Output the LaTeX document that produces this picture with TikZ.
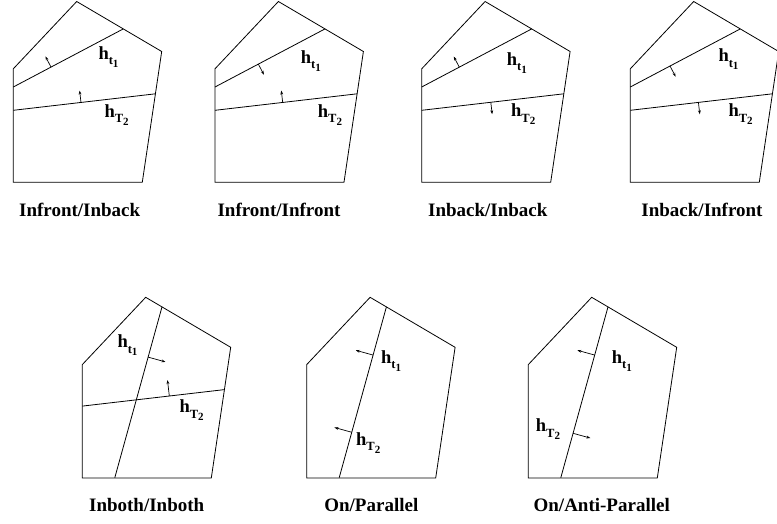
\documentclass[tikz,border=0pt]{standalone}
\usepackage{fontspec}
\setmainfont{Liberation Serif}
\usetikzlibrary{arrows.meta,calc}

% h with a two-level subscript, e.g. \hsub{t}{1}
\newcommand{\hsub}[2]{h\raisebox{-5.5pt}{\fontsize{12.5}{12.5}\selectfont #1\raisebox{-2.5pt}{\fontsize{11}{11}\selectfont #2}}}

\begin{document}
\begin{tikzpicture}[
    x=1pt, y=-1pt,
    line cap=butt, line join=miter,
    edge/.style={black, line width=0.8pt},
    normal/.style={black, line width=0.7pt, -{Stealth[length=4pt,width=2.8pt]}},
    hlabel/.style={anchor=base west, inner sep=0pt, font=\fontsize{18.5}{21}\selectfont\bfseries},
    caption/.style={anchor=base, inner sep=0pt, font=\fontsize{19}{22}\selectfont\bfseries},
    cell/.pic={\draw[edge] (63.4,0) -- (148.4,50) -- (129,180.7) -- (0,180.7) -- (0,67.3) -- cycle;},
]
\useasboundingbox (0,0) rectangle (777,523);

% Top row: both planes cross the cell side by side
\foreach \ox/\sa/\fa/\sb/\fb in {13.3/90/0.343/90/0.476, 215/-90/0.394/90/0.476,
                                 421.7/90/0.342/-90/0.486, 630.3/-90/0.361/-90/0.479}{
  \begin{scope}[shift={(\ox,1.5)}]
    \pic {cell};
    \coordinate (ta) at (0,85.5);   \coordinate (tb) at (110,27.4);
    \coordinate (Ta) at (0,108.8);  \coordinate (Tb) at (142.2,92.3);
    \draw[edge] (ta) -- (tb);
    \draw[edge] (Ta) -- (Tb);
    \draw[normal] ($(ta)!\fa!(tb)$) -- ($(ta)!\fa!(tb)!12pt!\sa:(tb)$);
    \draw[normal] ($(Ta)!\fb!(Tb)$) -- ($(Ta)!\fb!(Tb)!12pt!\sb:(Tb)$);
  \end{scope}
}

% Top row labels
\node[hlabel] (t1) at (98.3,59.3)  {\hsub{t}{1}};
\node[hlabel] (T1) at (104.3,117.3) {\hsub{T}{2}};
\node[hlabel] (t2) at (300.7,63.3) {\hsub{t}{1}};
\node[hlabel] (T2) at (317.7,117.3) {\hsub{T}{2}};
\node[hlabel] (t3) at (506.7,65)   {\hsub{t}{1}};
\node[hlabel] (T3) at (511,116.7)  {\hsub{T}{2}};
\node[hlabel] (t4) at (718.3,61.7) {\hsub{t}{1}};
\node[hlabel] (T4) at (728.3,116.7) {\hsub{T}{2}};

% Inboth: two crossing planes
\begin{scope}[shift={(82.3,297.3)}]
  \pic {cell};
  \coordinate (ta) at (32.5,180.4); \coordinate (tb) at (79.7,9.6);
  \coordinate (Ta) at (0,108.8);    \coordinate (Tb) at (142.2,92.3);
  \draw[edge] (ta) -- (tb);
  \draw[edge] (Ta) -- (Tb);
  \draw[normal] ($(ta)!0.706!(tb)$) -- ($(ta)!0.706!(tb)!18pt!-90:(tb)$);
  \draw[normal] ($(Ta)!0.612!(Tb)$) -- ($(Ta)!0.612!(Tb)!16pt!90:(Tb)$);
  \node[hlabel] (t5) at (35,50.4)   {\hsub{t}{1}};
  \node[hlabel] (T5) at (97,115.4)  {\hsub{T}{2}};
\end{scope}

% On/Parallel: one plane, normals to the same side
\begin{scope}[shift={(306.7,297.3)}]
  \pic {cell};
  \coordinate (ta) at (32.5,180.4); \coordinate (tb) at (79.7,9.6);
  \draw[edge] (ta) -- (tb);
  \draw[normal] ($(ta)!0.718!(tb)$) -- ($(ta)!0.718!(tb)!18pt!90:(tb)$);
  \draw[normal] ($(ta)!0.266!(tb)$) -- ($(ta)!0.266!(tb)!18pt!90:(tb)$);
  \node[hlabel] (t6) at (74.3,66)   {\hsub{t}{1}};
  \node[hlabel] (T6) at (49.3,147.7) {\hsub{T}{2}};
\end{scope}

% On/Anti-Parallel: one plane, opposite normals
\begin{scope}[shift={(528.3,297.3)}]
  \pic {cell};
  \coordinate (ta) at (32.5,180.4); \coordinate (tb) at (79.7,9.6);
  \draw[edge] (ta) -- (tb);
  \draw[normal] ($(ta)!0.718!(tb)$) -- ($(ta)!0.718!(tb)!18pt!90:(tb)$);
  \draw[normal] ($(ta)!0.26!(tb)$) -- ($(ta)!0.26!(tb)!18pt!-90:(tb)$);
  \node[hlabel] (t7) at (83.4,66)   {\hsub{t}{1}};
  \node[hlabel] (T7) at (7.4,134.4) {\hsub{T}{2}};
\end{scope}

% Captions
\node[caption] (c1) at (79.7,216.7)  {Infront/Inback};
\node[caption] (c2) at (279,216.7)   {Infront/Infront};
\node[caption] (c3) at (487.8,216.7) {Inback/Inback};
\node[caption] (c4) at (702,216.7)   {Inback/Infront};
\node[caption] (c5) at (146.7,511)   {Inboth/Inboth};
\node[caption] (c6) at (371.3,511)   {On/Parallel};
\node[caption] (c7) at (601.7,511)   {On/Anti-Parallel};

\end{tikzpicture}
\end{document}
